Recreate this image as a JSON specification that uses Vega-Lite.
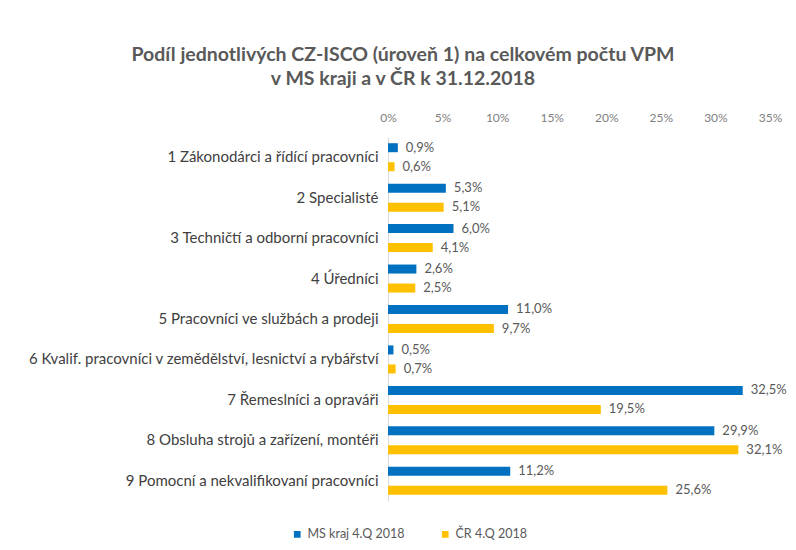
{
  "$schema": "https://vega.github.io/schema/vega-lite/v6.json",
  "width": 382,
  "height": 364,
  "padding": {"left": 27, "top": 44, "right": 5, "bottom": 5},
  "config": {
    "font": "Lato",
    "view": {"stroke": null},
    "locale": {"number": {"decimal": ",", "thousands": " ", "grouping": [3], "currency": ["", " Kč"]}}
  },
  "title": {
    "text": ["Podíl jednotlivých CZ-ISCO (úroveň 1) na celkovém počtu VPM", "v MS kraji a v ČR k 31.12.2018"],
    "font": "Lato",
    "fontSize": 19.5,
    "fontWeight": "bold",
    "color": "#595959",
    "anchor": "middle",
    "lineHeight": 24,
    "dx": -176,
    "offset": 22
  },
  "data": {
    "values": [
      {"kategorie": "1 Zákonodárci a řídící pracovníci", "serie": "MS kraj 4.Q 2018", "podil": 0.009},
      {"kategorie": "1 Zákonodárci a řídící pracovníci", "serie": "ČR 4.Q 2018", "podil": 0.006},
      {"kategorie": "2 Specialisté", "serie": "MS kraj 4.Q 2018", "podil": 0.053},
      {"kategorie": "2 Specialisté", "serie": "ČR 4.Q 2018", "podil": 0.051},
      {"kategorie": "3 Techničtí a odborní pracovníci", "serie": "MS kraj 4.Q 2018", "podil": 0.060},
      {"kategorie": "3 Techničtí a odborní pracovníci", "serie": "ČR 4.Q 2018", "podil": 0.041},
      {"kategorie": "4 Úředníci", "serie": "MS kraj 4.Q 2018", "podil": 0.026},
      {"kategorie": "4 Úředníci", "serie": "ČR 4.Q 2018", "podil": 0.025},
      {"kategorie": "5 Pracovníci ve službách a prodeji", "serie": "MS kraj 4.Q 2018", "podil": 0.110},
      {"kategorie": "5 Pracovníci ve službách a prodeji", "serie": "ČR 4.Q 2018", "podil": 0.097},
      {"kategorie": "6 Kvalif. pracovníci v zemědělství, lesnictví a rybářství", "serie": "MS kraj 4.Q 2018", "podil": 0.005},
      {"kategorie": "6 Kvalif. pracovníci v zemědělství, lesnictví a rybářství", "serie": "ČR 4.Q 2018", "podil": 0.007},
      {"kategorie": "7 Řemeslníci a opraváři", "serie": "MS kraj 4.Q 2018", "podil": 0.325},
      {"kategorie": "7 Řemeslníci a opraváři", "serie": "ČR 4.Q 2018", "podil": 0.195},
      {"kategorie": "8 Obsluha strojů a zařízení, montéři", "serie": "MS kraj 4.Q 2018", "podil": 0.299},
      {"kategorie": "8 Obsluha strojů a zařízení, montéři", "serie": "ČR 4.Q 2018", "podil": 0.321},
      {"kategorie": "9 Pomocní a nekvalifikovaní pracovníci", "serie": "MS kraj 4.Q 2018", "podil": 0.112},
      {"kategorie": "9 Pomocní a nekvalifikovaní pracovníci", "serie": "ČR 4.Q 2018", "podil": 0.256}
    ]
  },
  "encoding": {
    "y": {
      "field": "kategorie",
      "type": "nominal",
      "sort": null,
      "scale": {"paddingInner": 0, "paddingOuter": 0},
      "axis": {
        "title": null,
        "ticks": false,
        "domain": true,
        "domainColor": "#d9d9d9",
        "labelColor": "#404040",
        "labelFontSize": 15,
        "labelPadding": 10,
        "labelLimit": 400
      }
    },
    "yOffset": {
      "field": "serie",
      "type": "nominal",
      "sort": ["MS kraj 4.Q 2018", "ČR 4.Q 2018"],
      "scale": {"paddingInner": 0.526, "paddingOuter": 0.327}
    },
    "x": {
      "field": "podil",
      "type": "quantitative",
      "scale": {"domain": [0, 0.35], "nice": false},
      "axis": {
        "orient": "top",
        "title": null,
        "format": ".0%",
        "values": [0, 0.05, 0.1, 0.15, 0.2, 0.25, 0.3, 0.35],
        "domain": false,
        "ticks": false,
        "grid": false,
        "labelFlush": false,
        "labelColor": "#808080",
        "labelFontSize": 12,
        "labelPadding": 13
      }
    }
  },
  "layer": [
    {
      "mark": {"type": "bar"},
      "encoding": {
        "color": {
          "field": "serie",
          "type": "nominal",
          "sort": ["MS kraj 4.Q 2018", "ČR 4.Q 2018"],
          "scale": {"domain": ["MS kraj 4.Q 2018", "ČR 4.Q 2018"], "range": ["#0070C0", "#FFC000"]},
          "legend": {
            "title": null,
            "orient": "none",
            "legendX": -97,
            "legendY": 391,
            "direction": "horizontal",
            "symbolType": "square",
            "symbolSize": 45,
            "symbolStrokeWidth": 0,
            "labelFontSize": 12.5,
            "labelColor": "#595959",
            "columnPadding": 34
          }
        }
      }
    },
    {
      "mark": {"type": "text", "align": "left", "baseline": "middle", "dx": 8, "fontSize": 13, "color": "#595959"},
      "encoding": {
        "text": {"field": "podil", "type": "quantitative", "format": ".1%"}
      }
    }
  ]
}
